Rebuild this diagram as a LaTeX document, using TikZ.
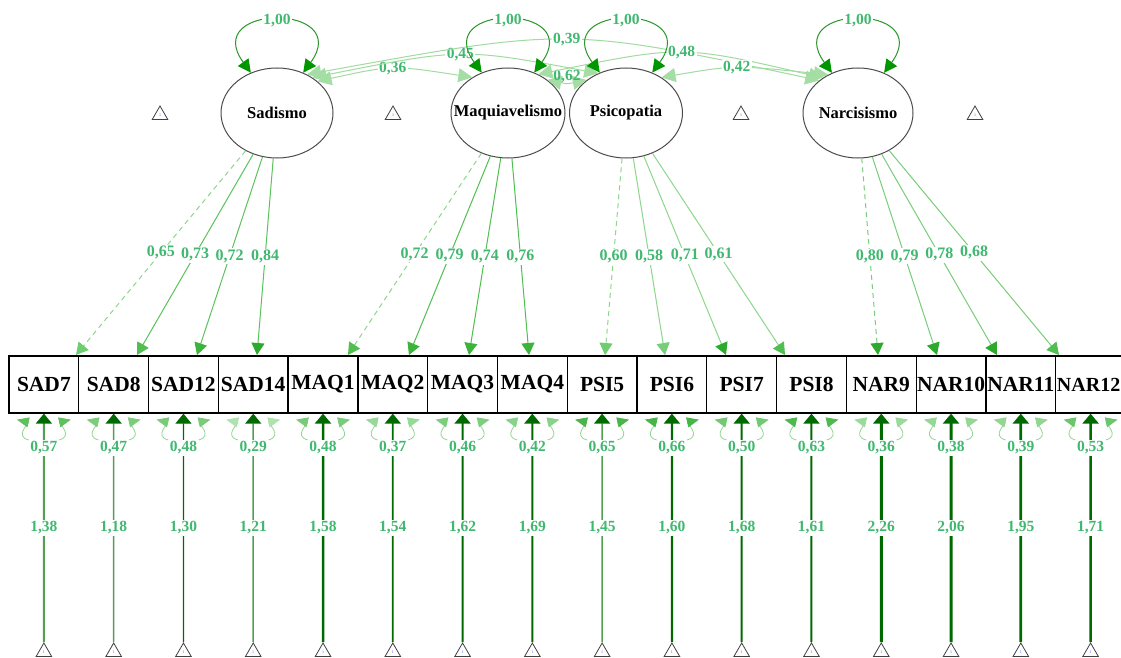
\documentclass[tikz,border=0pt]{standalone}
\usepackage{fontspec}
\setmainfont{Liberation Serif}
\usetikzlibrary{arrows.meta,shapes.geometric,calc}
\definecolor{labcol}{RGB}{64,184,112}
\definecolor{dkg}{RGB}{0,150,0}
\definecolor{latline}{RGB}{40,150,40}
\definecolor{covline}{RGB}{160,220,160}
\definecolor{covtip}{RGB}{165,222,165}
\definecolor{rdark}{RGB}{60,175,60}
\definecolor{rlight}{RGB}{185,232,185}
\definecolor{rline}{RGB}{150,212,150}
\definecolor{mtip}{RGB}{0,105,0}
\definecolor{mdark}{RGB}{0,105,0}
\definecolor{mmid}{RGB}{80,160,80}
\definecolor{lsad}{RGB}{90,195,90}
\definecolor{lsadd}{RGB}{140,215,140}
\definecolor{lmaq}{RGB}{80,190,80}
\definecolor{lpsi}{RGB}{140,215,140}
\definecolor{lnar}{RGB}{120,205,120}
\definecolor{tA}{RGB}{110,205,110}
\definecolor{tB}{RGB}{80,190,80}
\definecolor{tC}{RGB}{60,180,60}
\definecolor{tD}{RGB}{45,170,45}
\definecolor{tE}{RGB}{120,205,120}
\tikzset{
 obs/.style={draw=black, line width=1.3pt, minimum width=69.78pt, minimum height=57pt, inner sep=0pt, font=\fontsize{21.5}{21.5}\selectfont\bfseries},
 lat/.style={ellipse, draw=black!70, line width=1pt, fill=white, minimum width=112pt, minimum height=90pt, inner sep=0pt},
 latname/.style={font=\fontsize{16.5}{16.5}\selectfont\bfseries, inner sep=0pt},
 meantri/.style={regular polygon, regular polygon sides=3, draw=black!75, line width=0.8pt, minimum size=18pt, inner sep=0pt, font=\fontsize{4}{4}\selectfont, text=blue!70},
 llab/.style={fill=white, text=labcol, inner sep=1.5pt, font=\fontsize{16}{16}\selectfont\bfseries},
 clab/.style={fill=white, text=labcol, inner sep=1.5pt, font=\fontsize{15.5}{15.5}\selectfont\bfseries},
 clabnf/.style={text=labcol, inner sep=1pt, font=\fontsize{15.5}{15.5}\selectfont\bfseries},
 ldedge/.style={line width=1pt},
 latl/.style={draw=latline, line width=1pt, {Triangle[length=13pt,width=13pt,color=dkg]}-{Triangle[length=13pt,width=13pt,color=dkg]}},
 covl/.style={draw=covline, line width=1pt, {Triangle[length=14pt,width=14pt,color=covtip]}-{Triangle[length=14pt,width=14pt,color=covtip]}},
 resl/.style={draw=rline, line width=0.8pt},
 meanarr/.style={-{Triangle[length=10pt,width=16pt,color=mtip]}}
}
\newcommand\obsind[7]{%
 \node[obs] (#1) at (#2,384.5) {#3};
 \node[meantri] (#1m) at (#2,652) {1};
 \draw[meanarr,#6] (#1m) -- (#1.south) node[clab,midway] {#5};
 \node[clab] (#1v) at (#2,448) {#4};
 \colorlet{tmpc}{rdark!#7!rlight}
 \draw[resl,-{Triangle[length=12pt,width=10pt,color=tmpc]}] (#1v.north west) .. controls +(-15,-4) and +(13,3) .. ($(#1.south)+(-27,6)$);
 \draw[resl,-{Triangle[length=12pt,width=10pt,color=tmpc]}] (#1v.north east) .. controls +(15,-4) and +(-13,3) .. ($(#1.south)+(27,6)$);
}
\newcommand\loading[6]{%
 \coordinate (t#2) at (#3,355);
 \draw[ldedge,#5,-{Triangle[length=12pt,width=13pt,color=#6]}] (#1) -- (t#2) node[llab,midway] {#4};
}
\newcommand\latloop[2]{%
 \draw[latl] (#1.123) .. controls (#2-77,3) and (#2+77,3) .. (#1.57) node[clab,midway] {1,00};
}
\begin{document}
\begin{tikzpicture}[x=1pt,y=-1pt]
\useasboundingbox (0,0) rectangle (1121,658);
\clip (0,0) rectangle (1121,658);
\fill[white] (0,0) rectangle (1121,658);

% latent variables
\node[lat, label={[latname]center:Sadismo}] (sad) at (277,113) {};
\node[lat, minimum width=114pt, label={[latname]center:Maquiavelismo}] (maq) at (508,113) {};
\node[lat, minimum width=113pt, label={[latname]center:Psicopatia}] (psi) at (626,113) {};
\node[lat, minimum width=110pt, label={[latname]center:Narcisismo}] (nar) at (858,113) {};

% mean triangles of latents
\node[meantri] (lm1) at (160,115) {1};
\node[meantri] (lm2) at (393,115) {1};
\node[meantri] (lm3) at (741,115) {1};
\node[meantri] (lm4) at (975,115) {1};

% covariances
\draw[covl] (sad.38) .. controls (392,65) .. (maq.135) node[clab,midway] {0,36};
\draw[covl] (sad.45) .. controls (462,48) .. (psi.125) node[clab,midway] {0,45};
\draw[covl] (sad.52) .. controls (568,27) .. (nar.140) node[clab,midway] {0,39};
\draw[covl] (maq.40) .. controls (567,84) .. (psi.140) node[clabnf,midway,above=-1pt] {0,62};
\draw[covl] (maq.52) .. controls (682,45) .. (nar.135) node[clab,midway] {0,48};
\draw[covl] (psi.45) .. controls (734,65) .. (nar.128) node[clab,midway] {0,42};

% latent variances
\latloop{sad}{277}
\latloop{maq}{508}
\latloop{psi}{626}
\latloop{nar}{858}

% observed indicators
\obsind{SAD7}{43.89}{SAD7}{0,57}{1,38}{draw=mmid,line width=1.8pt}{71}
\obsind{SAD8}{113.67}{SAD8}{0,47}{1,18}{draw=mmid,line width=1.5pt}{49}
\obsind{SAD12}{183.45}{SAD12}{0,48}{1,30}{draw=mdark,line width=1.2pt}{51}
\obsind{SAD14}{253.23}{SAD14}{0,29}{1,21}{draw=mmid,line width=1.5pt}{9}
\obsind{MAQ1}{323.01}{MAQ1}{0,48}{1,58}{draw=mdark,line width=2.5pt}{51}
\obsind{MAQ2}{392.79}{MAQ2}{0,37}{1,54}{draw=mdark,line width=1.8pt}{27}
\obsind{MAQ3}{462.57}{MAQ3}{0,46}{1,62}{draw=mdark,line width=2pt}{47}
\obsind{MAQ4}{532.35}{MAQ4}{0,42}{1,69}{draw=mdark,line width=2pt}{38}
\obsind{PSI5}{602.13}{PSI5}{0,65}{1,45}{draw=mmid,line width=1.5pt}{89}
\obsind{PSI6}{671.91}{PSI6}{0,66}{1,60}{draw=mdark,line width=2.2pt}{91}
\obsind{PSI7}{741.69}{PSI7}{0,50}{1,68}{draw=mdark,line width=2pt}{56}
\obsind{PSI8}{811.47}{PSI8}{0,63}{1,61}{draw=mdark,line width=2pt}{84}
\obsind{NAR9}{881.25}{NAR9}{0,36}{2,26}{draw=mdark,line width=3pt}{24}
\obsind{NAR10}{951.03}{NAR10}{0,38}{2,06}{draw=mdark,line width=3pt}{29}
\obsind{NAR11}{1020.81}{NAR11}{0,39}{1,95}{draw=mdark,line width=2.8pt}{31}
\obsind{NAR12}{1090.59}{{\fontsize{20}{20}\selectfont\hspace*{-4pt}NAR12}}{0,53}{1,71}{draw=mdark,line width=2.5pt}{62}

% loadings
\loading{sad}{SAD7}{76}{0,65}{draw=lsadd,dash pattern=on 5pt off 4pt}{tA}
\loading{sad}{SAD8}{137}{0,73}{draw=lsad}{tB}
\loading{sad}{SAD12}{197}{0,72}{draw=lsad}{tC}
\loading{sad}{SAD14}{257}{0,84}{draw=lsad}{tD}
\loading{maq}{MAQ1}{348}{0,72}{draw=lsadd,dash pattern=on 5pt off 4pt}{tB}
\loading{maq}{MAQ2}{409}{0,79}{draw=lmaq}{tC}
\loading{maq}{MAQ3}{469}{0,74}{draw=lmaq}{tC}
\loading{maq}{MAQ4}{529}{0,76}{draw=lmaq}{tC}
\loading{psi}{PSI5}{605}{0,60}{draw=lpsi,dash pattern=on 5pt off 4pt}{tA}
\loading{psi}{PSI6}{665}{0,58}{draw=lpsi}{tE}
\loading{psi}{PSI7}{726}{0,71}{draw=lpsi}{tD}
\loading{psi}{PSI8}{785}{0,61}{draw=lpsi}{tB}
\loading{nar}{NAR9}{878}{0,80}{draw=lnar,dash pattern=on 5pt off 4pt}{tD}
\loading{nar}{NAR10}{937}{0,79}{draw=lnar}{tD}
\loading{nar}{NAR11}{997}{0,78}{draw=lnar}{tD}
\loading{nar}{NAR12}{1059}{0,68}{draw=lnar}{tB}
\end{tikzpicture}
\end{document}
